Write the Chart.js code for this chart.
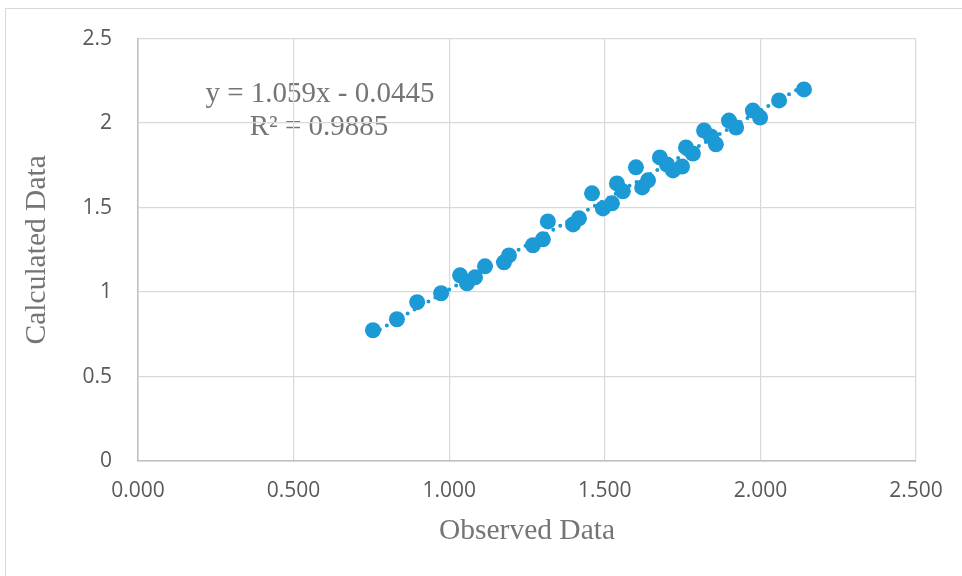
<!DOCTYPE html>
<html>
<head>
<meta charset="utf-8">
<script src="https://cdn.jsdelivr.net/npm/chart.js@4"></script>
<style>
  body { margin: 0; background: #fff; overflow: hidden; }
  #wrap { position: relative; width: 962px; height: 576px; }
  #frame { position: absolute; left: 5px; top: 8px; width: 1000px; height: 600px; border: 1px solid #d9d9d9; }
  canvas { position: absolute; left: 0; top: 0; }
</style>
</head>
<body>
<div id="wrap">
  <div id="frame"></div>
  <canvas id="chart" width="962" height="576"></canvas>
</div>
<script>
// observed vs calculated values
var observed = [0.755, 0.832, 0.897, 0.974, 1.035, 1.057, 1.083, 1.115, 1.176, 1.192,
    1.269, 1.301, 1.317, 1.398, 1.417, 1.459, 1.494, 1.523, 1.539, 1.558,
    1.600, 1.620, 1.639, 1.677, 1.700, 1.719, 1.748, 1.761, 1.783, 1.819,
    1.841, 1.857, 1.899, 1.922, 1.976, 1.999, 2.060, 2.140];
var calculated = [0.774, 0.839, 0.940, 0.993, 1.099, 1.052, 1.087, 1.152, 1.176, 1.217,
    1.277, 1.312, 1.418, 1.400, 1.436, 1.584, 1.495, 1.525, 1.643, 1.596,
    1.738, 1.619, 1.661, 1.797, 1.755, 1.720, 1.743, 1.856, 1.820, 1.956,
    1.921, 1.874, 2.015, 1.974, 2.074, 2.033, 2.134, 2.199];

// trendline end points
var trendX = [0.755, 2.140];
var trendY = [0.755, 2.222];

var xTicks = [0, 0.5, 1, 1.5, 2, 2.5];
var yTicks = [0, 0.5, 1, 1.5, 2, 2.5];

var equationLines = ["y = 1.059x - 0.0445", "R² = 0.9885"];

var blue = "#1c9ad6";
var textGrey = "#595959";
var titleGrey = "#757575";

function toPoints(xs, ys){
    var pts = [];
    for(var i=0; i<xs.length; i++){
        pts.push({x: xs[i], y: ys[i]});
    }
    return pts;
}

// equation label goes under the grid, like in the original
var equationPlugin = {
    id: "equation",
    beforeDraw: function(chart){
        var ctx = chart.ctx;
        ctx.save();
        ctx.font = "29px 'Liberation Serif'";
        ctx.fillStyle = titleGrey;
        ctx.textAlign = "center";
        ctx.textBaseline = "middle";
        ctx.fillText(equationLines[0], 320, 94);
        ctx.fillText(equationLines[1], 319, 127);
        ctx.restore();
    }
};

var tickFont = {family: "'Open Sans'", size: 21};
var titleFont = {family: "'Liberation Serif'", size: 29.5};

new Chart("chart", {
    type: "scatter",
    data: {
        datasets: [
            {
                label: "Data",
                data: toPoints(observed, calculated),
                backgroundColor: blue,
                borderColor: blue,
                pointRadius: 8,
                pointHoverRadius: 8,
                borderWidth: 0,
                order: 2
            },
            {
                label: "Linear",
                type: "line",
                data: toPoints(trendX, trendY),
                borderColor: blue,
                borderWidth: 4,
                borderDash: [0, 8],
                borderCapStyle: "round",
                pointRadius: 0,
                fill: false,
                order: 1
            }
        ]
    },
    plugins: [equationPlugin],
    options: {
        responsive: false,
        animation: false,
        layout: {
            padding: {left: 0, right: 46, top: 38, bottom: 0}
        },
        plugins: {
            legend: {display: false},
            tooltip: {enabled: false}
        },
        scales: {
            x: {
                type: "linear",
                min: 0,
                max: 2.5,
                afterBuildTicks: function(axis){
                    axis.ticks = xTicks.map(function(v){ return {value: v}; });
                },
                afterFit: function(axis){ axis.height = 115; },
                grid: {color: "#d9d9d9", lineWidth: 1.2, drawTicks: false},
                border: {color: "#bfbfbf", width: 1.5},
                ticks: {
                    color: textGrey,
                    font: tickFont,
                    padding: 17,
                    maxRotation: 0,
                    callback: function(v){ return v.toFixed(3); }
                },
                title: {
                    display: true,
                    text: "Observed Data",
                    color: titleGrey,
                    font: titleFont,
                    padding: {top: 0, bottom: 27}
                }
            },
            y: {
                type: "linear",
                min: 0,
                max: 2.5,
                afterBuildTicks: function(axis){
                    axis.ticks = yTicks.map(function(v){ return {value: v}; });
                },
                afterFit: function(axis){ axis.width = 138; },
                grid: {color: "#d9d9d9", lineWidth: 1.2, drawTicks: false},
                border: {color: "#bfbfbf", width: 1.5},
                ticks: {
                    color: textGrey,
                    font: tickFont,
                    padding: 26,
                    callback: function(v){ return String(v); }
                },
                title: {
                    display: true,
                    text: "Calculated Data",
                    color: titleGrey,
                    font: titleFont,
                    padding: {top: 20, bottom: 0}
                }
            }
        }
    }
});
</script>
</body>
</html>
